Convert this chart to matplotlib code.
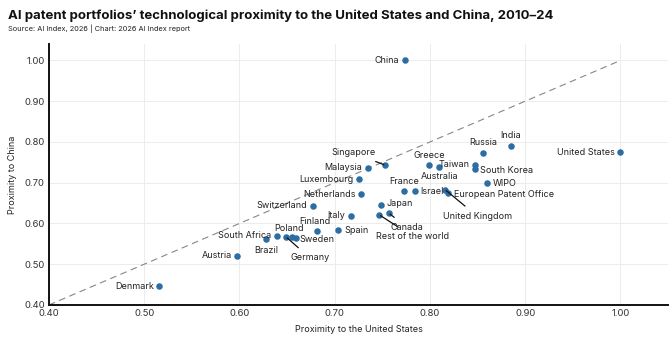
import matplotlib
matplotlib.use("Agg")
import matplotlib.pyplot as plt

plt.rcParams['font.family'] = ['Inter', 'DejaVu Sans']

# Proximity of each patent portfolio to the US (x) and to China (y)
entities = [
    "China", "United States", "India", "Russia", "Greece", "Taiwan", "South Korea",
    "Australia", "Singapore", "Malaysia", "Luxembourg", "Netherlands", "Switzerland",
    "France", "Israel", "United Kingdom", "European Patent Office", "WIPO", "Japan",
    "Canada", "Rest of the world", "Italy", "Spain", "Finland", "Poland", "Sweden",
    "Germany", "South Africa", "Brazil", "Austria", "Denmark",
]
prox_us = [
    0.774, 1.000, 0.885, 0.856, 0.799, 0.847, 0.847,
    0.810, 0.753, 0.735, 0.726, 0.728, 0.677,
    0.773, 0.784, 0.816, 0.819, 0.860, 0.749,
    0.757, 0.747, 0.717, 0.704, 0.682, 0.655, 0.659,
    0.649, 0.639, 0.628, 0.598, 0.516,
]
prox_china = [
    1.000, 0.775, 0.791, 0.774, 0.744, 0.744, 0.734,
    0.739, 0.743, 0.737, 0.709, 0.672, 0.644,
    0.679, 0.679, 0.683, 0.675, 0.699, 0.645,
    0.625, 0.621, 0.619, 0.583, 0.581, 0.566, 0.565,
    0.567, 0.570, 0.562, 0.521, 0.446,
]
ticks = [0.40, 0.50, 0.60, 0.70, 0.80, 0.90, 1.00]

# Label placement: (dx, dy) in points, horizontal alignment, leader line
label_pos = {
    "China": (-4, 0, "right", False),
    "United States": (-4, 0, "right", False),
    "India": (0, 7, "center", False),
    "Russia": (0, 7, "center", False),
    "Greece": (0, 7, "center", False),
    "Taiwan": (-4, 0, "right", False),
    "South Korea": (4, -1, "left", False),
    "Australia": (0, -7, "center", False),
    "Singapore": (-23, 9, "center", True),
    "Malaysia": (-4, 0, "right", False),
    "Luxembourg": (-4, 0, "right", False),
    "Netherlands": (-4, 0, "right", False),
    "Switzerland": (-4, 0, "right", False),
    "France": (0, 7, "center", False),
    "Israel": (4, 0, "left", False),
    "United Kingdom": (23, -19, "center", True),
    "European Patent Office": (4, -1, "left", False),
    "WIPO": (4, 0, "left", False),
    "Japan": (4, 1, "left", False),
    "Canada": (13, -10, "center", True),
    "Rest of the world": (24, -15.5, "center", True),
    "Italy": (-4, 0, "right", False),
    "Spain": (4, 0, "left", False),
    "Finland": (-2, 7, "center", False),
    "Poland": (-2, 6, "center", False),
    "Sweden": (3, -1, "left", False),
    "Germany": (17, -15, "center", True),
    "South Africa": (-4, 0, "right", False),
    "Brazil": (0, -8, "center", False),
    "Austria": (-4, 0, "right", False),
    "Denmark": (-4, 0, "right", False),
}

fig = plt.figure(figsize=(6.7, 3.45), dpi=100)
ax = fig.add_axes([0.073, 0.116, 0.924, 0.756])

ax.set_xlim(0.40, 1.05)
ax.set_ylim(0.40, 1.04)
ax.set_xticks(ticks)
ax.set_yticks(ticks)
ax.set_xticklabels([f"{t:.2f}" for t in ticks])
ax.set_yticklabels([f"{t:.2f}" for t in ticks])
ax.tick_params(axis="both", length=0, labelsize=6.8, colors="#333333", pad=3)
ax.grid(True, color="#ececec", linewidth=0.7)
ax.set_axisbelow(True)
for s in ("top", "right"):
    ax.spines[s].set_visible(False)
for s in ("left", "bottom"):
    ax.spines[s].set_linewidth(1.4)
    ax.spines[s].set_color("#111111")

# Equal-proximity reference line
ax.plot([0.40, 1.00], [0.40, 1.00], linestyle=(0, (6, 4)), color="#7f898e",
        linewidth=0.8, zorder=1)

ax.scatter(prox_us, prox_china, s=22, color="#2c6ea3", zorder=3, linewidths=0)

for name, x, y in zip(entities, prox_us, prox_china):
    dx, dy, ha, leader = label_pos[name]
    kw = {}
    if leader:
        kw["arrowprops"] = dict(arrowstyle="-", color="#111111", linewidth=0.9,
                                shrinkA=3, shrinkB=1)
    ax.annotate(name, (x, y), xytext=(dx, dy), textcoords="offset points",
                ha=ha, va="center", fontsize=6.5, color="#222222", zorder=4, **kw)

ax.set_xlabel("Proximity to the United States", fontsize=6.5, color="#222222",
              labelpad=5)
ax.set_ylabel("Proximity to China", fontsize=6.5, color="#222222", labelpad=5)

fig.text(0.012, 0.955, "AI patent portfolios’ technological proximity to the United States and China, 2010–24",
         fontsize=9.5, fontweight="bold", color="#111111", va="center")
fig.text(0.012, 0.918, "Source: AI Index, 2026 | Chart: 2026 AI Index report",
         fontsize=5.3, color="#222222", va="center")

fig.savefig("out.png", dpi=100)
